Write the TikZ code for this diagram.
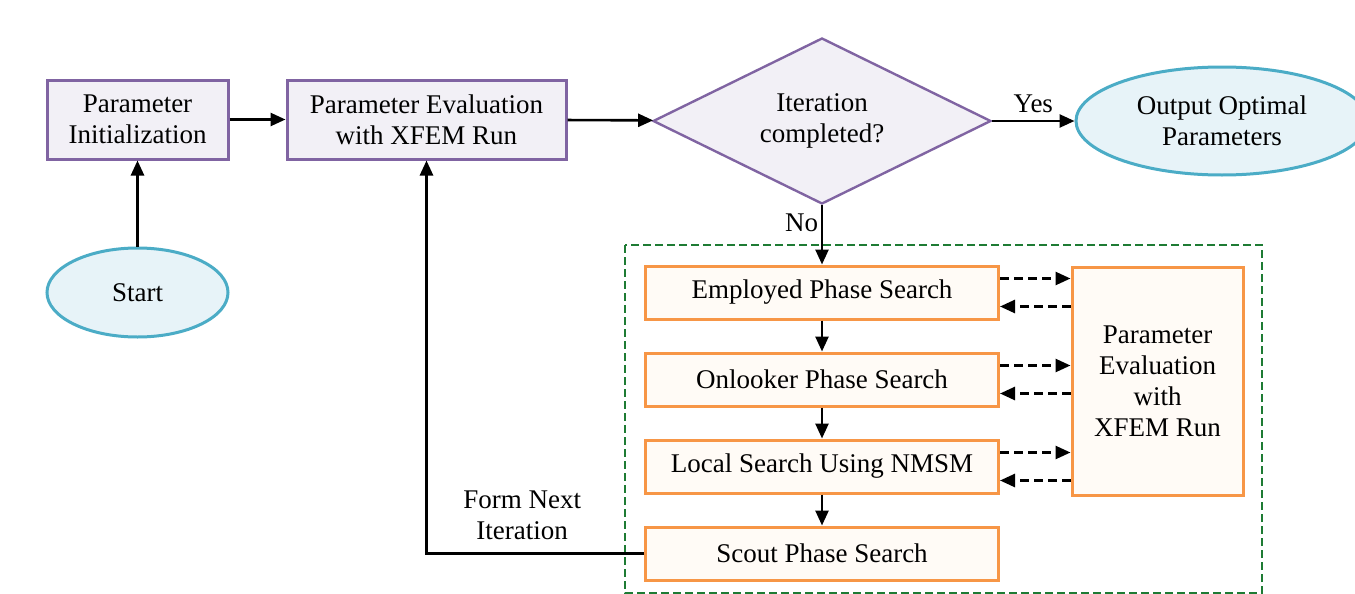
\documentclass[tikz,border=0pt]{standalone}
\usepackage{fontspec}
\setmainfont{Liberation Serif}
\usetikzlibrary{shapes.geometric,arrows.meta,positioning}

\definecolor{boxpurple}{HTML}{8064A2}
\definecolor{purplefill}{HTML}{F2F0F6}
\definecolor{ellblue}{HTML}{4BACC6}
\definecolor{ellfill}{HTML}{E7F3F8}
\definecolor{boxorange}{HTML}{F79646}
\definecolor{orangefill}{HTML}{FFFBF6}
\definecolor{groupgreen}{HTML}{1E7B34}

\tikzset{
  txt/.style={font=\fontsize{13.5}{15.5}\selectfont, align=center},
  procbox/.style={txt, rectangle, draw=boxpurple, fill=purplefill, line width=1.5pt, inner sep=2pt},
  decision/.style={txt, diamond, aspect=2, draw=boxpurple, fill=purplefill, line width=1.2pt,
    inner sep=0pt, minimum width=169pt, minimum height=83pt},
  terminal/.style={txt, ellipse, draw=ellblue, fill=ellfill, line width=1.5pt, inner sep=0pt},
  searchbox/.style={txt, rectangle, draw=boxorange, fill=orangefill, line width=1.5pt,
    minimum width=176.5pt, minimum height=26.5pt},
  evalbox/.style={searchbox, minimum width=85.5pt, minimum height=114pt},
  flow/.style={line width=1.3pt, -{Triangle[length=7.5pt,width=6.5pt]}},
  dflow/.style={flow, dash pattern=on 4.5pt off 2.5pt},
  groupframe/.style={draw=groupgreen, line width=1pt, dash pattern=on 4pt off 2pt}
}

\begin{document}
\begin{tikzpicture}[x=0.5pt,y=-0.5pt]
  \useasboundingbox (0,0) rectangle (1355,594);

  % main loop
  \node[procbox, minimum width=90.5pt, minimum height=39.5pt] (init) at (137.5,119.5) {Parameter\\Initialization};
  \node[procbox, minimum width=139.5pt, minimum height=39.5pt] (eval) at (426.5,119.5) {Parameter Evaluation\\with XFEM Run};
  \node[decision] (iter) at (822,121) {Iteration\\completed?};
  \node[terminal, minimum width=146pt, minimum height=54pt] (output) at (1222,121) {Output Optimal\\Parameters};
  \node[terminal, minimum width=90.5pt, minimum height=44.5pt] (start) at (137.5,292.5) {Start};

  % search phases
  \draw[groupframe] (625,245) rectangle (1262,593);
  \node[searchbox] (employed) at (822,292.5) {Employed Phase Search};
  \node[searchbox] (onlooker) at (822,379.5) {Onlooker Phase Search};
  \node[searchbox] (local) at (822,466.5) {Local Search Using NMSM};
  \node[searchbox] (scout) at (822,553.5) {Scout Phase Search};
  \node[evalbox] (xfem) at (1157.5,381) {Parameter\\Evaluation\\with\\XFEM Run};

  % connectors
  \draw[flow] (start) -- (init);
  \draw[flow] (init) -- (eval);
  \draw[flow] (eval) -- (iter);
  \draw[flow] (iter) -- node[txt, above] {Yes} (output);
  \draw[flow] (iter) -- node[txt, left, pos=0.3, xshift=2pt] {No} (employed);
  \draw[flow] (employed) -- (onlooker);
  \draw[flow] (onlooker) -- (local);
  \draw[flow] (local) -- (scout);

  \foreach \phase in {employed,onlooker,local}{
    \draw[dflow] ([yshift=7pt]\phase.east) -- ([yshift=7pt]\phase.east -| xfem.west);
    \draw[dflow] ([yshift=-7pt]\phase.east -| xfem.west) -- ([yshift=-7pt]\phase.east);
  }

  \draw[flow] (scout.west) -| node[txt, above, pos=0.28, yshift=3pt] {Form Next\\Iteration} (eval.south);

\end{tikzpicture}
\end{document}
